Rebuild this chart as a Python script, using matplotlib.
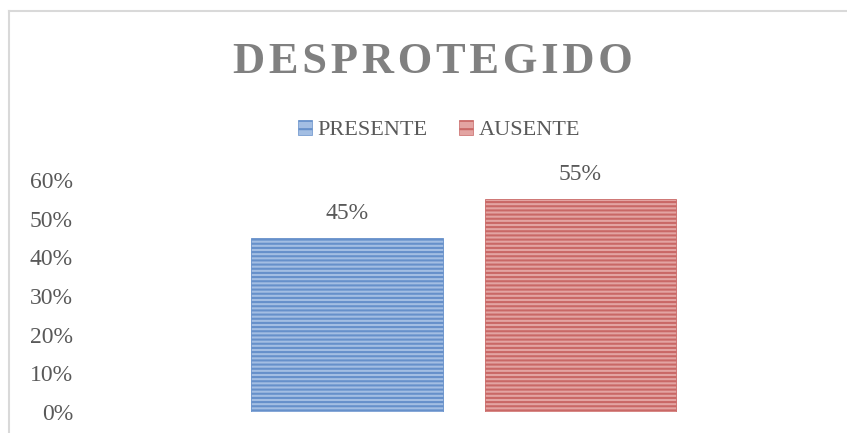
import matplotlib.pyplot as plt
from matplotlib.patches import Patch
from matplotlib.lines import Line2D

# data
categorias = ["PRESENTE", "AUSENTE"]
valores = [0.45, 0.55]
etiquetas = ["45%", "55%"]
yticks = [0, 0.1, 0.2, 0.3, 0.4, 0.5, 0.6]
ytick_labels = ["0%", "10%", "20%", "30%", "40%", "50%", "60%"]
titulo = "DESPROTEGIDO"

caras = ["#A3BEE3", "#E3A4A2"]
rayas = ["#6690CA", "#C96866"]
gris = "#595959"

plt.rcParams['font.family'] = ['Liberation Serif', 'DejaVu Serif']
plt.rcParams['hatch.linewidth'] = 1.5

fig = plt.figure(figsize=(8.47, 4.33), dpi=100)
ax = fig.add_axes([80 / 847, 21 / 433, 758 / 847, 232 / 433])

pos = [0, 1]
for i in range(len(valores)):
    ax.bar(pos[i], valores[i], width=0.82, color=caras[i],
           edgecolor=rayas[i], hatch='----', linewidth=0.6)
    ax.annotate(etiquetas[i], (pos[i], valores[i]), xytext=(0, 10),
                textcoords='offset points', ha='center', va='bottom',
                fontsize=17, color=gris)

ax.set_xlim(-1.146, 2.107)
ax.set_ylim(0, 0.6)
ax.set_yticks(yticks)
ax.set_yticklabels(ytick_labels, fontsize=17, color=gris)
ax.tick_params(axis='y', length=0, pad=5)
ax.set_xticks([])
for s in ax.spines.values():
    s.set_visible(False)

# spaced-out title like the original
fig.text(433 / 847, 1 - 62 / 433, '\u200a'.join(titulo), ha='center', va='center',
         fontsize=32, fontweight='bold', color='#808080')

handles = [Patch(facecolor=caras[i], edgecolor=rayas[i], hatch='--', linewidth=0.5)
           for i in range(len(categorias))]
fig.legend(handles, categorias, loc='center', bbox_to_anchor=(439 / 847, 1 - 130 / 433),
           ncol=2, frameon=False, fontsize=16, handlelength=0.65, handleheight=0.65,
           handletextpad=0.25, columnspacing=1.4, labelcolor=gris)

# chart frame
fig.add_artist(Line2D([9 / 847, 9 / 847], [0, 1 - 11 / 433], color='#D9D9D9', lw=1.5))
fig.add_artist(Line2D([9 / 847, 1], [1 - 11 / 433, 1 - 11 / 433], color='#D9D9D9', lw=1.5))

fig.savefig('out.png', dpi=100)
